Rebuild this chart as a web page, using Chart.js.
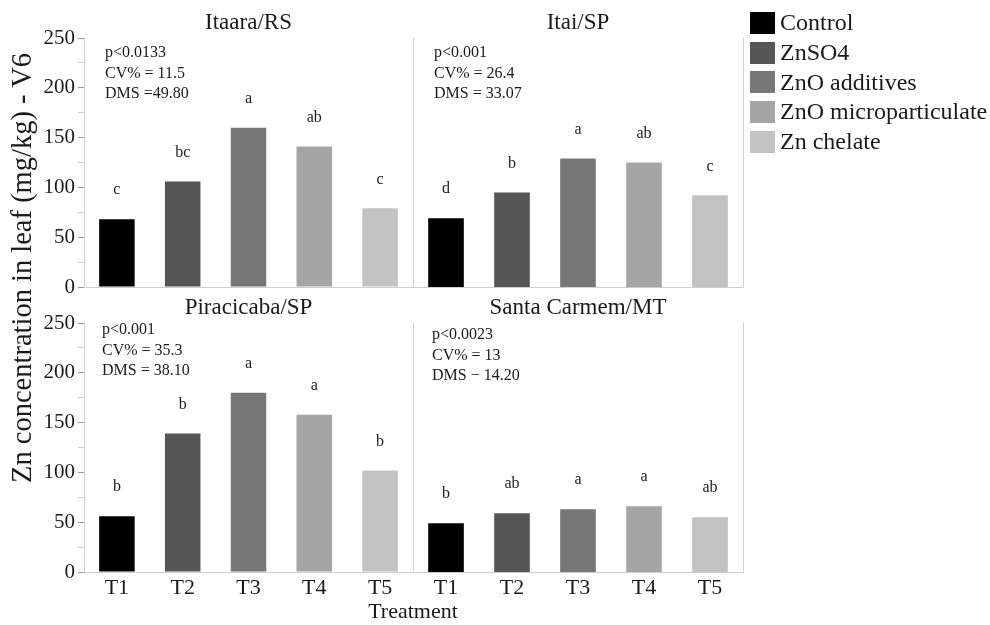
<!DOCTYPE html>
<html>
<head>
<meta charset="utf-8">
<script src="https://cdn.jsdelivr.net/npm/chart.js@4.4.0/dist/chart.umd.min.js"></script>
<style>
  body { margin:0; background:#fff; font-family:"Liberation Serif", serif; color:#1a1a1a; }
  #wrap { position:relative; width:990px; height:625px; overflow:hidden; }
  #wrap canvas { position:absolute; left:0; top:0; }
  .ytitle { position:absolute; left:22px; top:268px; font-size:28.5px; white-space:nowrap;
            transform:translate(-50%,-50%) rotate(-90deg); }
  .xtitle { position:absolute; left:413px; top:611px; font-size:22px; white-space:nowrap;
            transform:translate(-50%,-50%); }
  .legend { position:absolute; left:750px; top:8px; }
  .legend div { height:29.7px; display:flex; align-items:center; font-size:24px; white-space:nowrap; }
  .legend span.box { display:inline-block; width:25px; height:22px; margin-right:5px; }
</style>
</head>
<body>
<div id="wrap">
  <canvas id="c1" width="990" height="625"></canvas>
  <canvas id="c2" width="990" height="625"></canvas>
  <canvas id="c3" width="990" height="625"></canvas>
  <canvas id="c4" width="990" height="625"></canvas>
  <div class="ytitle">Zn concentration in leaf (mg/kg) - V6</div>
  <div class="xtitle">Treatment</div>
  <div class="legend" id="legend"></div>
</div>
<script>
var treatments = ["T1", "T2", "T3", "T4", "T5"];
var seriesNames = ["Control", "ZnSO4", "ZnO additives", "ZnO microparticulate", "Zn chelate"];
var colors = ["#000000", "#555555", "#777777", "#a5a5a5", "#c2c2c2"];

var itaara = [68, 106, 160, 141, 79];
var itai = [69, 95, 129, 125, 92];
var piracicaba = [56, 139, 180, 158, 102];
var santaCarmem = [49, 59, 63, 66, 55];

var itaaraLetters = ["c", "bc", "a", "ab", "c"];
var itaiLetters = ["d", "b", "a", "ab", "c"];
var piracicabaLetters = ["b", "b", "a", "a", "b"];
var santaCarmemLetters = ["b", "ab", "a", "a", "ab"];

var itaaraStats = ["p<0.0133", "CV% = 11.5", "DMS =49.80"];
var itaiStats = ["p<0.001", "CV% = 26.4", "DMS = 33.07"];
var piracicabaStats = ["p<0.001", "CV% = 35.3", "DMS = 38.10"];
var santaCarmemStats = ["p<0.0023", "CV% = 13", "DMS \u2212 14.20"];

var yMax = 250;

Chart.defaults.font.family = '"Liberation Serif", serif';
Chart.defaults.color = '#1a1a1a';

// letters, stats text and the light panel frame
var annot = {
  id: 'annot',
  afterDatasetsDraw: function(chart, args, opts) {
    var ctx = chart.ctx, area = chart.chartArea;
    ctx.save();
    ctx.strokeStyle = '#cfcfcf';
    ctx.lineWidth = 1;
    ctx.beginPath();
    ctx.moveTo(Math.round(area.left) + 0.5, area.top);
    ctx.lineTo(Math.round(area.left) + 0.5, Math.round(area.bottom) + 0.5);
    ctx.lineTo(Math.round(area.right) + 0.5, Math.round(area.bottom) + 0.5);
    ctx.lineTo(Math.round(area.right) + 0.5, area.top);
    ctx.stroke();

    ctx.fillStyle = '#1a1a1a';
    ctx.font = '16px "Liberation Serif"';
    ctx.textBaseline = 'middle';
    ctx.textAlign = 'left';
    opts.stats.forEach(function(s, i) {
      ctx.fillText(s, area.left + opts.dx, area.top + opts.dy + i * 20.5);
    });
    ctx.textAlign = 'center';
    chart.getDatasetMeta(0).data.forEach(function(bar, i) {
      ctx.fillText(opts.letters[i], bar.x, bar.y - 29);
    });
    ctx.restore();
  }
};

function makePanel(id, title, values, letters, stats, pos) {
  var left = pos.col === 0;
  var bottom = pos.row === 1;
  return new Chart(document.getElementById(id), {
    type: 'bar',
    data: {
      labels: treatments,
      datasets: [{
        label: title,
        data: values,
        backgroundColor: colors,
        borderWidth: 0,
        barPercentage: 0.54,
        categoryPercentage: 1
      }]
    },
    options: {
      responsive: false,
      animation: false,
      events: [],
      layout: {
        padding: {
          left: left ? 0 : 413,
          right: left ? 577 : 247,
          top: bottom ? 285 : 0,
          bottom: bottom ? 0 : 338
        }
      },
      plugins: {
        legend: { display: false },
        tooltip: { enabled: false },
        title: {
          display: true,
          text: title,
          fullSize: false,
          color: '#1a1a1a',
          font: { size: 23, weight: 'normal' },
          padding: { top: 9, bottom: 1.4 }
        },
        annot: { letters: letters, stats: stats, dx: pos.dx, dy: pos.dy }
      },
      scales: {
        x: {
          display: bottom,
          grid: { display: false, drawTicks: false },
          border: { display: false },
          ticks: { font: { size: 22 }, color: '#1a1a1a', padding: 3 },
          afterFit: function(s) { s.height = bottom ? 53 : 0; }
        },
        y: {
          display: left,
          min: 0,
          max: yMax,
          grid: {
            drawOnChartArea: false,
            tickLength: 6,
            color: function(c) { return c.tick && c.tick.value % 50 === 0 ? '#9a9a9a' : '#cfcfcf'; }
          },
          border: { display: false },
          ticks: {
            stepSize: 25,
            padding: 3,
            autoSkip: false,
            color: '#1a1a1a',
            font: { size: 21 },
            callback: function(v) { return v % 50 === 0 ? v : ''; }
          },
          afterFit: function(s) { s.width = left ? 84 : 0; }
        }
      }
    },
    plugins: [annot]
  });
}

makePanel('c1', 'Itaara/RS', itaara, itaaraLetters, itaaraStats, { row: 0, col: 0, dx: 21, dy: 15 });
makePanel('c2', 'Itai/SP', itai, itaiLetters, itaiStats, { row: 0, col: 1, dx: 21, dy: 15 });
makePanel('c3', 'Piracicaba/SP', piracicaba, piracicabaLetters, piracicabaStats, { row: 1, col: 0, dx: 18, dy: 7 });
makePanel('c4', 'Santa Carmem/MT', santaCarmem, santaCarmemLetters, santaCarmemStats, { row: 1, col: 1, dx: 19, dy: 12 });

var legend = document.getElementById('legend');
seriesNames.forEach(function(name, i) {
  var row = document.createElement('div');
  var box = document.createElement('span');
  box.className = 'box';
  box.style.background = colors[i];
  row.appendChild(box);
  row.appendChild(document.createTextNode(name));
  legend.appendChild(row);
});
</script>
</body>
</html>
